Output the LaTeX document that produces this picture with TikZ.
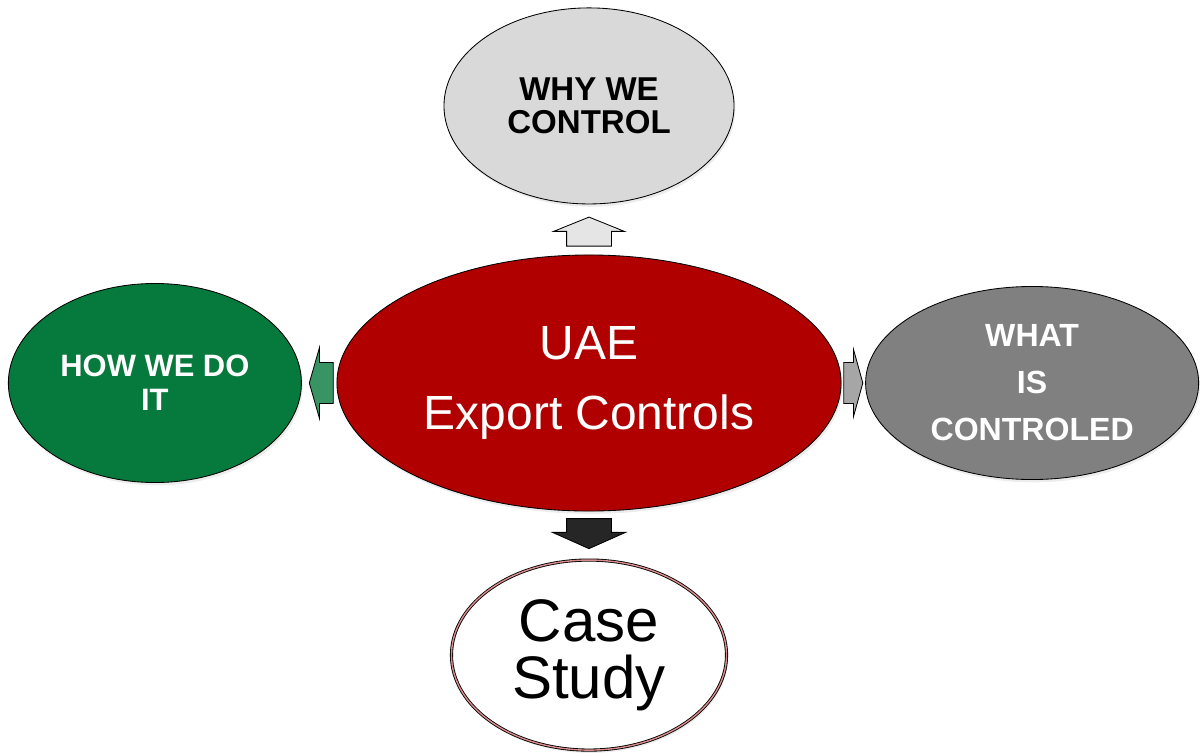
\documentclass[tikz,border=0pt]{standalone}
\usepackage{fontspec}
\setmainfont{Liberation Sans}
\usetikzlibrary{positioning,calc,shapes.geometric,shapes.arrows,shadows}

\definecolor{uaered}{HTML}{B00000}
\definecolor{howgreen}{HTML}{067A3C}
\definecolor{whatgray}{HTML}{808080}
\definecolor{whygray}{HTML}{D9D9D9}
\definecolor{caserim}{HTML}{D98C8C}

\begin{document}
\begin{tikzpicture}[x=0.025cm,y=-0.025cm,
  main node/.style={ellipse,draw=black,line width=0.6pt,inner sep=0pt,
    align=center,drop shadow={shadow xshift=1pt,shadow yshift=-2pt,opacity=0.15}},
  topic node/.style={main node,text=white,font=\bfseries\fontsize{22.8}{33.4}\selectfont},
  arrow node/.style={single arrow,draw=black,line width=0.6pt,inner sep=0pt,anchor=tail}]

  \useasboundingbox (0,0) rectangle (1200,755);

  \node[main node,fill=uaered,text=white,minimum width=12.6cm,minimum height=6.4cm,
    font=\fontsize{34.1}{49.8}\selectfont] (UAE) at (589,383) {UAE\\Export Controls};
  \node[main node,fill=whygray,minimum width=7.25cm,minimum height=4.9cm,
    font=\bfseries\fontsize{23.5}{23.5}\selectfont]
    (WHY) [node distance=6.925cm, above of=UAE] {WHY WE\\CONTROL};
  \node[topic node,fill=howgreen,minimum width=7.325cm,minimum height=4.975cm,
    font=\bfseries\fontsize{22}{24.2}\selectfont]
    (HOW) [node distance=10.85cm, left of=UAE] {HOW WE DO\\IT};
  \node[topic node,fill=whatgray,minimum width=8.325cm,minimum height=4.825cm]
    (WHAT) [node distance=11.075cm, right of=UAE] {WHAT\\IS\\CONTROLED};
  \node[main node,fill=white,draw=black,double=caserim,double distance=1pt,
    minimum width=6.875cm,minimum height=4.75cm,
    font=\fontsize{42.7}{40.5}\selectfont]
    (CASE) [node distance=6.8cm, below of=UAE] {Case\\Study};

  % block arrows between the centre and the four topics
  \node[arrow node,fill=black!10,shape border rotate=90,minimum height=0.725cm,
    minimum width=1.75cm,single arrow head extend=0.325cm,single arrow tip angle=136]
    (toWHY) at ($(UAE.north)!0.16!(WHY.south)$) {\rule{1.1cm}{0pt}};
  \node[arrow node,fill=black!85,shape border rotate=270,minimum height=0.75cm,
    minimum width=1.8cm,single arrow head extend=0.35cm,single arrow tip angle=132]
    (toCASE) at ($(UAE.south)!0.14!(CASE.north)$) {\rule{1.1cm}{0pt}};
  \node[arrow node,fill=howgreen!80,shape border rotate=180,minimum height=0.6cm,
    minimum width=1.75cm,single arrow head extend=0.375cm,single arrow tip angle=148]
    (toHOW) at ($(UAE.west)!0.08!(HOW.east)$) {\rule{0pt}{1cm}};
  \node[arrow node,fill=black!35,minimum height=0.475cm,
    minimum width=1.65cm,single arrow head extend=0.325cm,single arrow tip angle=149]
    (toWHAT) at ($(UAE.east)!0.08!(WHAT.west)$) {\rule{0pt}{1cm}};
\end{tikzpicture}
\end{document}
